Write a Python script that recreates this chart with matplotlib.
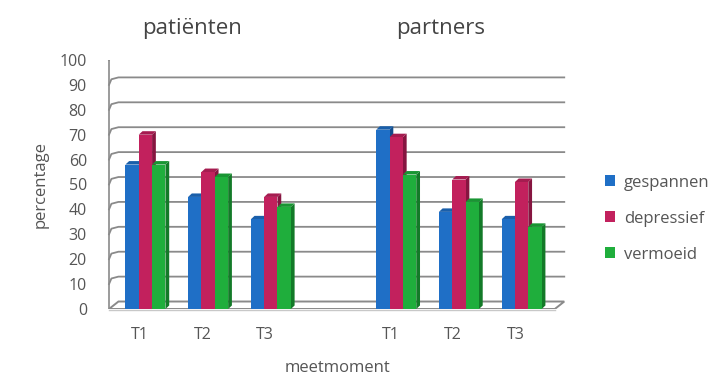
import numpy as np
import matplotlib.pyplot as plt
from matplotlib.patches import Polygon, Patch

plt.rcParams['font.family'] = ['Open Sans', 'DejaVu Sans']

# percentages per measurement moment (patiënten T1-T3, then partners T1-T3)
tick_labels = ['T1', 'T2', 'T3', 'T1', 'T2', 'T3']
group_titles = ['patiënten', 'partners']
series_names = ['gespannen', 'depressief', 'vermoeid']
gespannen = [58, 45, 36, 72, 39, 36]
depressief = [70, 55, 45, 69, 52, 51]
vermoeid = [58, 53, 41, 54, 43, 33]

slots = np.array([0, 1, 2, 4, 5, 6])
front_cols = ['#1F6FC6', '#C2215D', '#1FAE3C']
side_cols = ['#124C8C', '#861540', '#137A28']
top_cols = ['#1A5FAA', '#A51C50', '#199533']
txt_col = '#555555'

fig = plt.figure(figsize=(7.13, 3.77), dpi=100)
ax = fig.add_axes([0.1473, 0.1804, 0.652, 0.6605])
x0, x1 = -0.55, 6.56
ax.set_xlim(-0.614, 6.80)
ax.set_ylim(0, 100)

# depth offset of the back wall
dx, dy = 0.15, 3.0
grid_col = '#8A8A8A'

# floor
floor = Polygon([(x0, 0), (x1, 0), (x1 + dx, dy), (x0 + dx, dy)], closed=True,
                facecolor='white', edgecolor=grid_col, lw=1.4, zorder=1)
ax.add_patch(floor)
ax.plot([x0, x1], [-0.6, -0.6], color='#C8C8C8', lw=1.0, zorder=1, clip_on=False)

# back wall gridlines with the curved left side wall
for v in range(10, 101, 10):
    ax.plot([x0, x0 + dx * 0.25, x0 + dx, x1 + dx], [v, v + dy * 0.75, v + dy, v + dy],
            color=grid_col, lw=1.3, zorder=1, solid_joinstyle='round')
ax.plot([x0, x0], [0, 100], color=grid_col, lw=1.2, zorder=1)

# 3D-looking columns
bw = 0.213
sd, sh = 0.06, 1.4
all_series = [gespannen, depressief, vermoeid]
for k, vals in enumerate(all_series):
    xs = slots + (k - 1) * bw + 0.03
    ax.bar(xs, vals, width=bw, color=front_cols[k], edgecolor='none', zorder=3 + k * 0.1)
for i, s in enumerate(slots):
    for k, vals in enumerate(all_series):
        xl = s + (k - 1) * bw + 0.03 - bw / 2
        xr = xl + bw
        v = vals[i]
        z = 3 + k * 0.1 - 0.05
        side = Polygon([(xr, 0), (xr + sd, sh), (xr + sd, v + sh), (xr, v)], closed=True,
                       facecolor=side_cols[k], edgecolor='none', zorder=z)
        top = Polygon([(xl, v), (xr, v), (xr + sd, v + sh), (xl + sd, v + sh)], closed=True,
                      facecolor=top_cols[k], edgecolor='none', zorder=z)
        ax.add_patch(side)
        ax.add_patch(top)

for sp in ax.spines.values():
    sp.set_visible(False)
ax.set_yticks(range(0, 101, 10))
ax.set_xticks(slots - 0.06)
ax.set_xticklabels(tick_labels)
ax.tick_params(axis='both', length=0, labelsize=11.5, colors=txt_col)
ax.tick_params(axis='x', pad=13)
ax.tick_params(axis='y', pad=13)
ax.set_xlabel('meetmoment', fontsize=12, color=txt_col, labelpad=12)
ax.set_ylabel('percentage', fontsize=12, color=txt_col, labelpad=8)

fig.text(0.269, 0.925, group_titles[0], fontsize=16, color='#444444', ha='center', va='center')
fig.text(0.618, 0.925, group_titles[1], fontsize=16, color='#444444', ha='center', va='center')

handles = [Patch(facecolor=c, edgecolor='none') for c in front_cols]
fig.legend(handles, series_names, loc='center left', bbox_to_anchor=(0.828, 0.42),
           frameon=False, handlelength=0.6, handleheight=0.6, handletextpad=0.5,
           labelspacing=1.2, fontsize=12, labelcolor=txt_col)

fig.savefig('out.png', dpi=100)
